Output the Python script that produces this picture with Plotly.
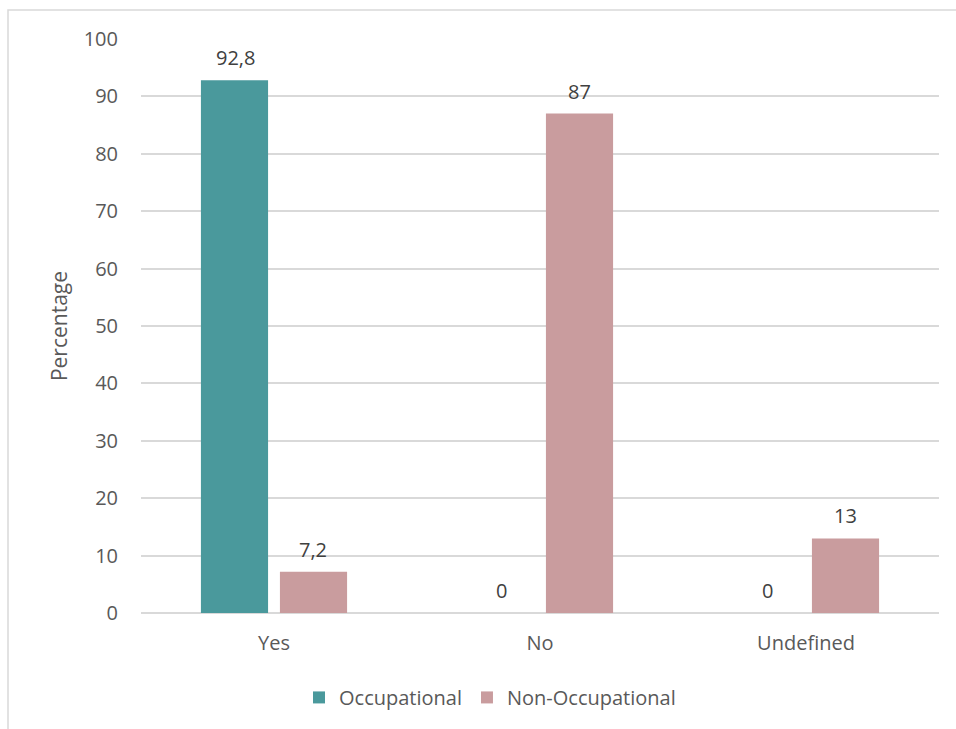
import plotly.graph_objects as go

# Categories and series values (percent)
categories = ["Yes", "No", "Undefined"]
occupational = [92.8, 0, 0]
non_occupational = [7.2, 87, 13]
occupational_labels = ["92,8", "0", "0"]
non_occupational_labels = ["7,2", "87", "13"]
y_ticks = [0, 10, 20, 30, 40, 50, 60, 70, 80, 90, 100]

TEXT = "#595959"
LABEL = "#404040"
GRID = "#D9D9D9"
FONT = "Open Sans, Segoe UI, sans-serif"
FS = 20

fig = go.Figure()
fig.add_trace(go.Bar(
    name="Occupational", x=categories, y=occupational,
    marker_color="#4A999C", marker_line_width=0,
))
fig.add_trace(go.Bar(
    name="Non-Occupational", x=categories, y=non_occupational,
    marker_color="#C99C9E", marker_line_width=0,
))

W, H = 956, 729
L, R, T, B = 141, 17, 39, 115.5
pw, ph = W - L - R, H - T - B

def px_x(x):
    return (x - L) / pw

def px_y(y):
    return (H - B - y) / ph

# Value labels sit above each bar, shifted to the bar's slot in the group
BAR_OFFSET = 39
annotations = []
for cat, val, lab in zip(categories, occupational, occupational_labels):
    annotations.append(dict(x=cat, y=val, xref="x", yref="y", text=lab,
                            showarrow=False, xshift=-BAR_OFFSET, yshift=7,
                            yanchor="bottom", font=dict(size=FS, color=LABEL)))
for cat, val, lab in zip(categories, non_occupational, non_occupational_labels):
    annotations.append(dict(x=cat, y=val, xref="x", yref="y", text=lab,
                            showarrow=False, xshift=BAR_OFFSET, yshift=7,
                            yanchor="bottom", font=dict(size=FS, color=LABEL)))

fig.update_layout(
    width=W, height=H,
    margin=dict(l=L, r=R, t=T, b=B, pad=0),
    paper_bgcolor="white", plot_bgcolor="white",
    font=dict(family=FONT, color=TEXT, size=FS),
    barmode="group", bargap=0.406, bargroupgap=0.15,
    showlegend=True,
    legend=dict(
        orientation="h", x=px_x(490), xanchor="center",
        y=px_y(698), yanchor="middle",
        font=dict(size=FS, color=TEXT),
        traceorder="normal", itemwidth=30,
    ),
    xaxis=dict(
        showgrid=False, showline=False, zeroline=False,
        ticks="", tickfont=dict(size=FS, color=TEXT),
        ticklabelstandoff=16,
    ),
    yaxis=dict(
        range=[0, 100], tickvals=y_ticks,
        showgrid=True, gridcolor=GRID, gridwidth=1.5,
        zeroline=True, zerolinecolor=GRID, zerolinewidth=1.5,
        showline=False, ticks="",
        tickfont=dict(size=FS, color=TEXT),
        ticklabelstandoff=22,
        title=dict(text="Percentage", font=dict(size=21, color=TEXT), standoff=10),
    ),
    annotations=annotations,
    shapes=[
        dict(type="rect", xref="paper", yref="paper",
             x0=px_x(8), x1=px_x(W + 20), y0=px_y(H + 20), y1=px_y(10),
             line=dict(color=GRID, width=1.5), fillcolor="rgba(0,0,0,0)",
             layer="below"),
    ],
)

fig.write_html("out.html")
